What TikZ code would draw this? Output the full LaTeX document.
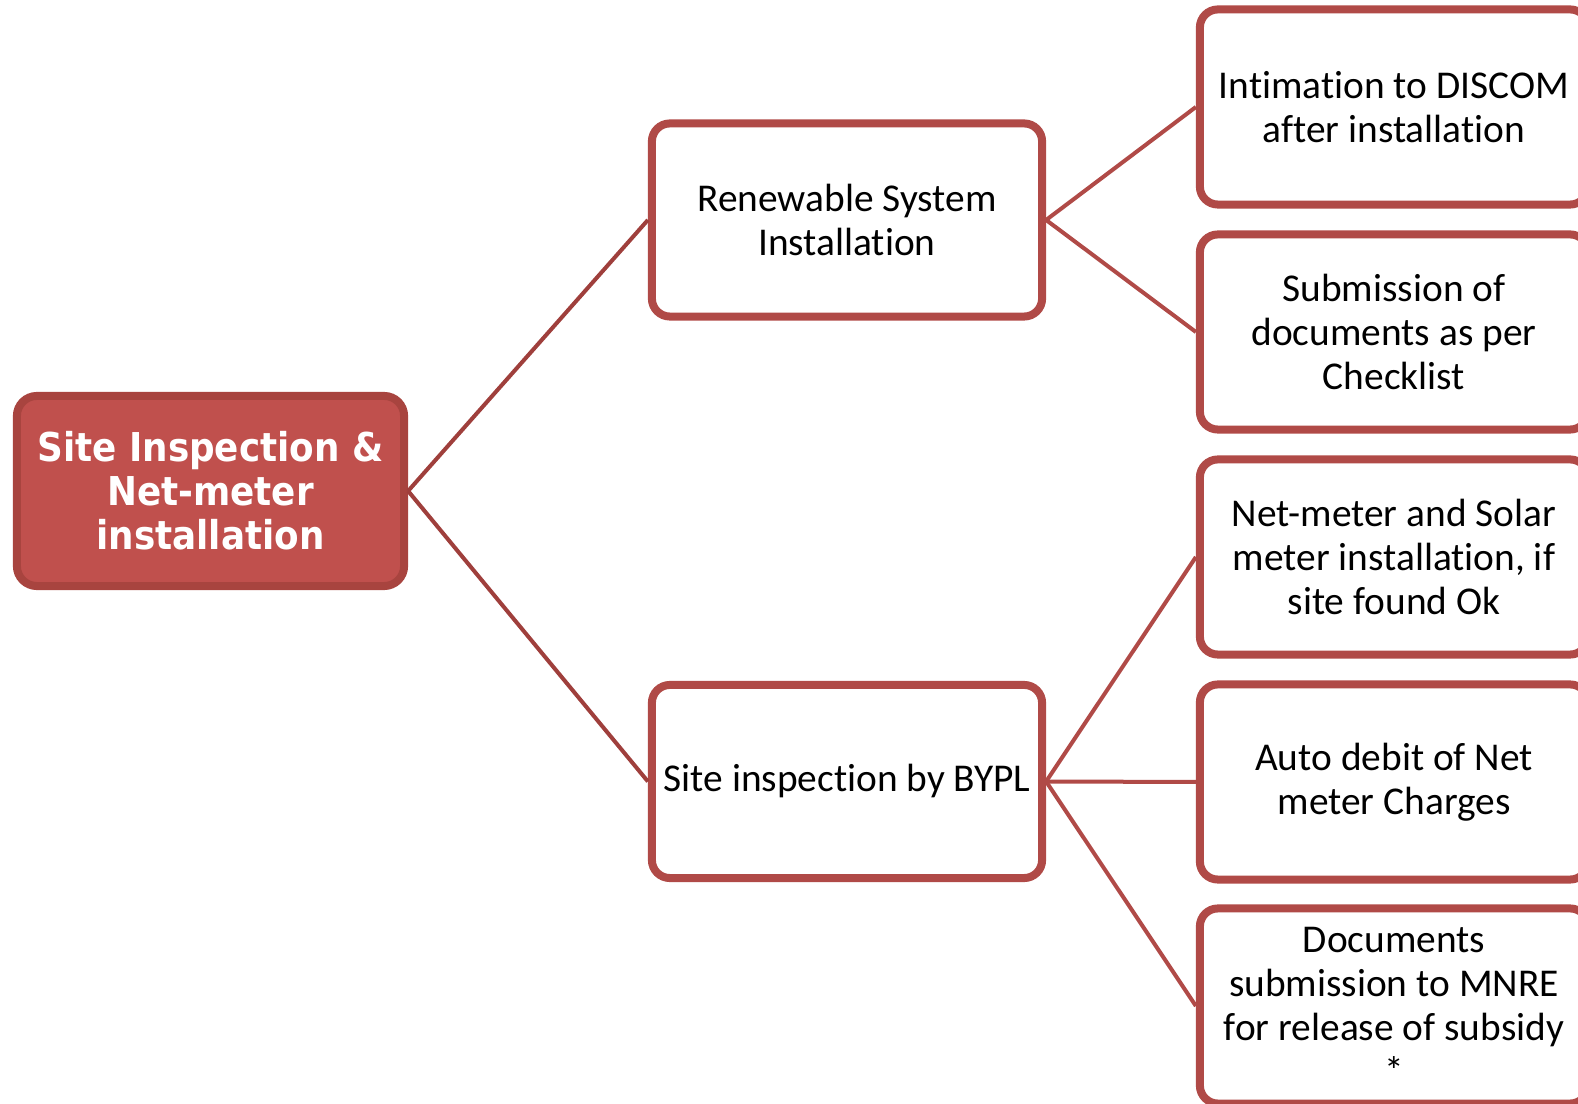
\documentclass[tikz,border=0pt]{standalone}
\usepackage{fontspec}
\setmainfont[Ligatures=NoCommon]{Carlito}
\newfontfamily\rootfont{DejaVu Sans Condensed}
\definecolor{rootfill}{HTML}{C0504D}
\definecolor{rootedge}{HTML}{A8443F}
\definecolor{boxedge}{HTML}{B04A47}
\definecolor{linkdark}{HTML}{9F3F3C}
\tikzset{
  rootbox/.style={draw=rootedge,fill=rootfill,line width=0.08cm,rounded corners=0.2cm,
    minimum width=3.87cm,minimum height=1.90cm,align=center,text=white,
    font=\rootfont\bfseries\fontsize{11.3}{12.5}\selectfont},
  midbox/.style={draw=boxedge,fill=white,line width=0.08cm,rounded corners=0.18cm,
    minimum width=3.90cm,minimum height=1.93cm,align=center,inner sep=0pt,
    font=\fontsize{11.2}{12.5}\selectfont},
  leafbox/.style={midbox,minimum width=3.88cm,minimum height=1.95cm},
  link/.style={draw=boxedge,line width=0.04cm},
}
\begin{document}
\begin{tikzpicture}[x=0.01cm,y=-0.01cm]
    \useasboundingbox (0,0) rectangle (1578,1104);
    \clip (0,0) rectangle (1578,1104);
    \node[rootbox] (root) at (210.5,491) {Site Inspection \&\\Net-meter\\installation};
    \node[midbox] (renew) at (847,220) {Renewable System\\Installation};
    \node[midbox] (site) at (847,781.5) {Site inspection by BYPL};
    \node[leafbox] (intim) at (1394,107) {Intimation to DISCOM\\after installation};
    \node[leafbox] (submit) at (1394,332) {Submission of\\documents as per\\Checklist};
    \node[leafbox] (meter) at (1394,557) {Net-meter and Solar\\meter installation, if\\site found Ok};
    \node[leafbox] (debit) at (1394,782) {Auto debit of Net\\meter Charges};
    \node[leafbox] (mnre) at (1394,1006) {Documents\\submission to MNRE\\for release of subsidy\\*};
    \draw[link,draw=linkdark] (root.east) -- (renew.west);
    \draw[link,draw=linkdark] (root.east) -- (site.west);
    \foreach \leaf in {intim,submit}
    {
    \draw[link] (renew.east) -- (\leaf.west);
    }
    \foreach \leaf in {meter,debit,mnre}
    {
    \draw[link] (site.east) -- (\leaf.west);
    }
\end{tikzpicture}
\end{document}
